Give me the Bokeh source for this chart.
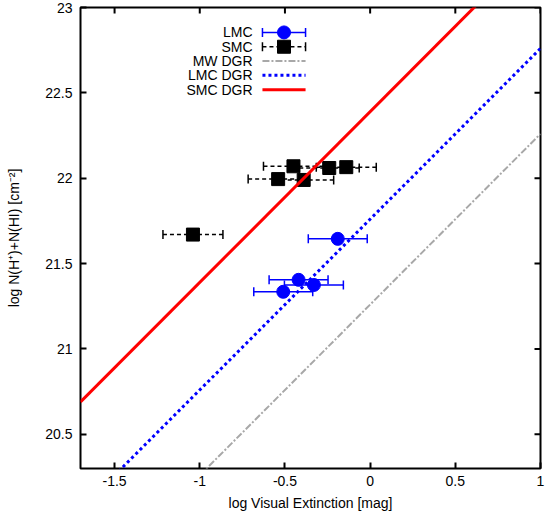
import numpy as np
from bokeh.plotting import figure
from bokeh.models import ColumnDataSource, Whisker, TeeHead, FixedTicker, Range1d
from bokeh.core.properties import value
from bokeh.embed import file_html
from bokeh.resources import INLINE

# --- measurements: log A_V [mag] vs log N(H+)+N(HI) [cm^-2] ---
lmc_av = [-0.19, -0.42, -0.33, -0.51]
lmc_nh = [21.645, 21.405, 21.375, 21.335]
lmc_av_err = [0.173, 0.173, 0.173, 0.173]

smc_av = [-0.45, -0.24, -0.14, -0.54, -0.39, -1.04]
smc_nh = [22.07, 22.06, 22.065, 21.995, 21.99, 21.67]
smc_av_err = [0.176, 0.176, 0.176, 0.176, 0.176, 0.176]

# dust-to-gas ratios: log N = log A_V + offset
dgr_names = ["MW DGR", "LMC DGR", "SMC DGR"]
dgr_offsets = [21.26, 21.76, 22.39]

x_ticks = [-1.5, -1, -0.5, 0, 0.5, 1]
x_tick_labels = ["-1.5", "-1", "-0.5", "0", "0.5", "1"]
y_ticks = [20.5, 21, 21.5, 22, 22.5, 23]
y_tick_labels = ["20.5", "21", "21.5", "22", "22.5", "23"]

X_MIN, X_MAX = -1.7, 1.0
Y_MIN, Y_MAX = 20.3, 23.0

FONT = "Liberation Sans"
BLUE = "#0000ff"
RED = "#ff0000"
GREY = "#a8a8a8"

p = figure(width=546, height=513,
           x_range=Range1d(X_MIN, X_MAX), y_range=Range1d(Y_MIN, Y_MAX),
           output_backend="svg", toolbar_location=None,
           min_border_left=80, min_border_right=6,
           min_border_top=7, min_border_bottom=45)
p.background_fill_color = "white"
p.border_fill_color = "white"
p.outline_line_color = "black"
p.outline_line_width = 2
p.xgrid.visible = False
p.ygrid.visible = False


def style_axis(ax, ticks, labels):
    ax.ticker = FixedTicker(ticks=ticks)
    ax.major_label_overrides = {t: l for t, l in zip(ticks, labels)}
    ax.axis_line_color = None
    ax.major_tick_in = 6
    ax.major_tick_out = 0
    ax.major_tick_line_width = 2
    ax.major_tick_line_color = "black"
    ax.minor_tick_line_color = None
    ax.major_label_text_font = FONT
    ax.major_label_text_font_size = "14px"
    ax.major_label_text_color = "black"
    ax.axis_label_text_font = FONT
    ax.axis_label_text_font_size = "14px"
    ax.axis_label_text_font_style = "normal"
    ax.axis_label_text_color = "black"


style_axis(p.xaxis[0], x_ticks, x_tick_labels)
style_axis(p.yaxis[0], y_ticks, y_tick_labels)
p.xaxis[0].major_label_standoff = 7
p.yaxis[0].major_label_standoff = 8
p.xaxis[0].axis_label = "log Visual Extinction [mag]"
p.yaxis[0].axis_label = "log N(H\u207a)+N(HI) [cm\u207b\u00b2]"
p.xaxis[0].axis_label_standoff = 6
p.yaxis[0].axis_label_standoff = 20

# mirrored inward ticks on the top and right frame edges
# (a dash marker centred on the edge; the outer half is clipped by the frame)
p.scatter(x=x_ticks, y=[Y_MAX] * len(x_ticks), marker="dash", size=12,
          angle=np.pi / 2, line_color="black", line_width=2)
p.scatter(x=[X_MAX] * len(y_ticks), y=y_ticks, marker="dash", size=12,
          line_color="black", line_width=2)

# --- error bars ---
lmc_src = ColumnDataSource(dict(
    x=lmc_av, y=lmc_nh,
    lo=np.array(lmc_av) - np.array(lmc_av_err),
    hi=np.array(lmc_av) + np.array(lmc_av_err)))
smc_src = ColumnDataSource(dict(
    x=smc_av, y=smc_nh,
    lo=np.array(smc_av) - np.array(smc_av_err),
    hi=np.array(smc_av) + np.array(smc_av_err)))


def add_whisker(src, color, dash):
    w = Whisker(source=src, base="y", lower="lo", upper="hi",
                dimension="width", line_color=color, line_width=1.5,
                line_dash=dash,
                lower_head=TeeHead(size=9, line_color=color, line_width=1.5),
                upper_head=TeeHead(size=9, line_color=color, line_width=1.5))
    p.add_layout(w)


add_whisker(lmc_src, BLUE, "solid")
add_whisker(smc_src, "black", "4 3")

p.scatter("x", "y", source=lmc_src, marker="circle", size=13,
          fill_color=BLUE, line_color=BLUE)
p.scatter("x", "y", source=smc_src, marker="square", size=13,
          fill_color="black", line_color="black")

# --- DGR lines ---
dgr_styles = [dict(line_color=GREY, line_width=2, line_dash="7 2 2 2"),
              dict(line_color=BLUE, line_width=3, line_dash="3 3"),
              dict(line_color=RED, line_width=3, line_dash="solid")]
for off, st in zip(dgr_offsets, dgr_styles):
    xs = [X_MIN, X_MAX]
    p.line(xs, [x + off for x in xs], **st)

# --- legend (labels right-aligned, samples to their right) ---
LEG_TEXT_X = -0.69
LEG_S0, LEG_S1 = -0.632, -0.379
LEG_TOP = 22.854
LEG_STEP = 0.0838
leg_labels = ["LMC", "SMC"] + dgr_names
leg_y = [LEG_TOP - i * LEG_STEP for i in range(len(leg_labels))]

p.text(x=[LEG_TEXT_X] * len(leg_labels), y=leg_y, text=leg_labels,
       text_align="right", text_baseline="middle",
       text_font=value(FONT), text_font_size="14px", text_color="black")

leg_mid = 0.5 * (LEG_S0 + LEG_S1)
leg_lmc = ColumnDataSource(dict(x=[leg_mid], y=[leg_y[0]], lo=[LEG_S0], hi=[LEG_S1]))
leg_smc = ColumnDataSource(dict(x=[leg_mid], y=[leg_y[1]], lo=[LEG_S0], hi=[LEG_S1]))
add_whisker(leg_lmc, BLUE, "solid")
add_whisker(leg_smc, "black", "4 3")
p.scatter("x", "y", source=leg_lmc, marker="circle", size=13,
          fill_color=BLUE, line_color=BLUE)
p.scatter("x", "y", source=leg_smc, marker="square", size=13,
          fill_color="black", line_color="black")
for yy, st in zip(leg_y[2:], dgr_styles):
    p.line([LEG_S0, LEG_S1], [yy, yy], **st)

open("out.html", "w").write(file_html(p, INLINE))
